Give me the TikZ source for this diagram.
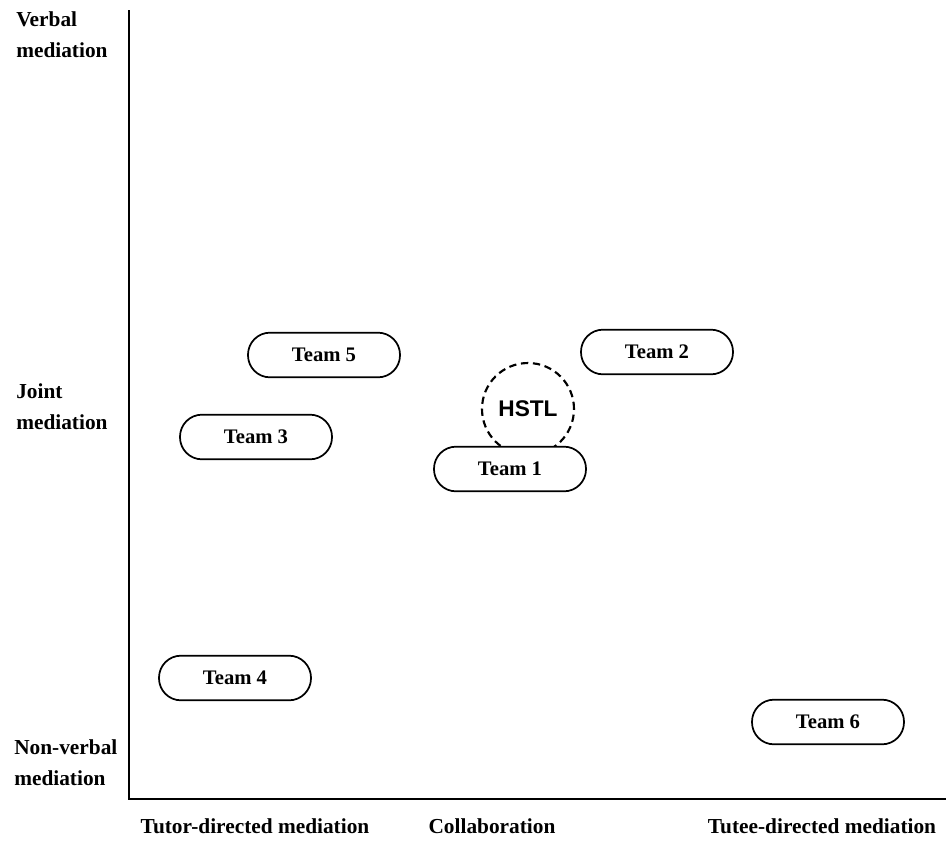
\documentclass[tikz,border=0pt]{standalone}
\usepackage{fontspec}
\setmainfont{Liberation Serif}
\newfontfamily\hstlfont{Liberation Sans}
\usetikzlibrary{positioning}

\begin{document}
\begin{tikzpicture}
            [x=0.75pt,y=-0.75pt,
            every node/.style={font=\bfseries\fontsize{16}{23}\selectfont},
            team/.style={draw,fill=white,line width=1.3pt,rounded corners=16.5pt,
              minimum width=114pt,minimum height=33.5pt,inner sep=0pt,
              font=\bfseries\fontsize{15.5}{18}\selectfont},
            axlabel/.style={align=left,anchor=west,inner sep=0pt}
            ]
            \useasboundingbox (0,0) rectangle (950,840);
            % axes
            \coordinate (yTop) at (129,10);
            \coordinate (O) at (129,799);
            \coordinate (xEnd) at (946,799);
            \draw[line width=1.6pt] (yTop) -- (O) -- (xEnd);
            \node[axlabel] (verbal) at (16,35) {Verbal\\mediation};
            \node[axlabel] (joint) at (16,407) {Joint\\mediation};
            \node[axlabel] (nonverbal) at (14,763) {Non-verbal\\mediation};
            \node (tutor) at (255,826) {Tutor-directed mediation};
            \node (collab) at (492,826) {Collaboration};
            \node (tutee) at (822,826) {Tutee-directed mediation};
            % HSTL sits behind Team 1
            \node[circle,draw,line width=1.6pt,dash pattern=on 5.5pt off 3.5pt,
              minimum size=69pt,inner sep=0pt,font=\hstlfont\bfseries\fontsize{17}{18}\selectfont]
              (hstl) at (528,409) {HSTL};
            \node[team] (T5) at (324,355) {Team 5};
            \node[team] (T2) at (657,352) {Team 2};
            \node[team] (T3) at (256,437) {Team 3};
            \node[team] (T1) at (510,469) {Team 1};
            \node[team] (T4) at (235,678) {Team 4};
            \node[team] (T6) at (828,722) {Team 6};
          \end{tikzpicture}
\end{document}
